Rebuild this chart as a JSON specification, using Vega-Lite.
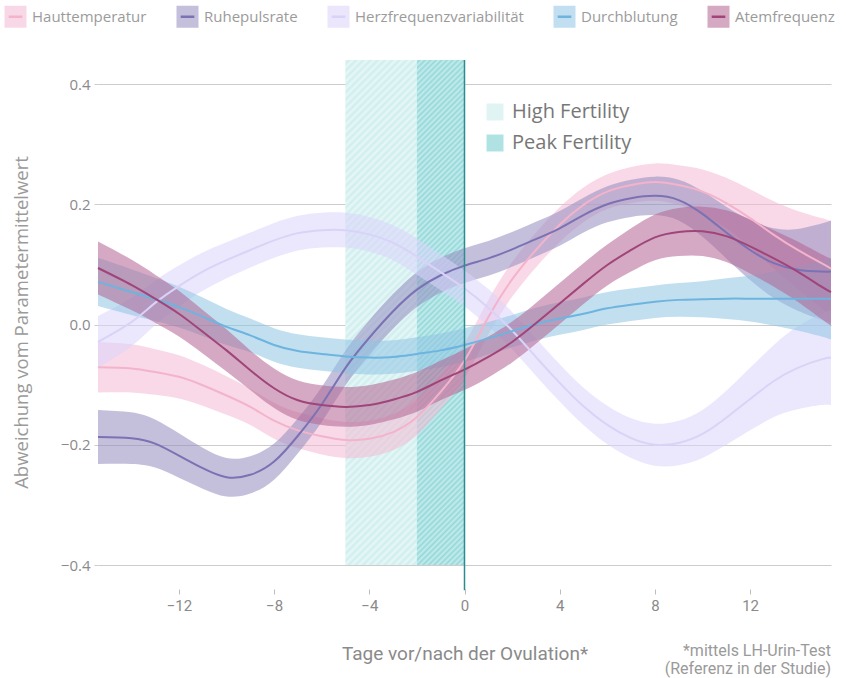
{
  "$schema": "https://vega.github.io/schema/vega-lite/v6.json",
  "width": 733,
  "height": 505,
  "autosize": "none",
  "padding": {"left": 98, "top": 60, "right": 15, "bottom": 113},
  "background": "white",
  "config": {"view": {"stroke": null}, "font": "Open Sans"},
  "title": {
    "text": ["*mittels LH-Urin-Test", "(Referenz in der Studie)"],
    "orient": "bottom", "anchor": "end", "frame": "group", "align": "right",
    "font": "Roboto", "fontSize": 16, "fontWeight": "normal", "color": "#9a9a9a",
    "lineHeight": 17.5, "offset": -20
  },
  "datasets": {
    "fert": [
      {"p": "High Fertility", "a": -5, "b": -2},
      {"p": "Peak Fertility", "a": -2, "b": 0}
    ],
    "bands": [
      {"s":"Hauttemperatur","d":-15.4,"v":-0.071,"lo":-0.113,"hi":-0.029},
      {"s":"Hauttemperatur","d":-14,"v":-0.073,"lo":-0.113,"hi":-0.033},
      {"s":"Hauttemperatur","d":-13,"v":-0.079,"lo":-0.117,"hi":-0.041},
      {"s":"Hauttemperatur","d":-12,"v":-0.087,"lo":-0.123,"hi":-0.051},
      {"s":"Hauttemperatur","d":-11,"v":-0.101,"lo":-0.135,"hi":-0.067},
      {"s":"Hauttemperatur","d":-10,"v":-0.118,"lo":-0.150,"hi":-0.086},
      {"s":"Hauttemperatur","d":-9,"v":-0.137,"lo":-0.167,"hi":-0.107},
      {"s":"Hauttemperatur","d":-8,"v":-0.160,"lo":-0.190,"hi":-0.130},
      {"s":"Hauttemperatur","d":-7,"v":-0.176,"lo":-0.206,"hi":-0.146},
      {"s":"Hauttemperatur","d":-6,"v":-0.186,"lo":-0.216,"hi":-0.156},
      {"s":"Hauttemperatur","d":-5,"v":-0.192,"lo":-0.222,"hi":-0.162},
      {"s":"Hauttemperatur","d":-4,"v":-0.190,"lo":-0.220,"hi":-0.160},
      {"s":"Hauttemperatur","d":-3,"v":-0.179,"lo":-0.209,"hi":-0.149},
      {"s":"Hauttemperatur","d":-2,"v":-0.154,"lo":-0.184,"hi":-0.124},
      {"s":"Hauttemperatur","d":-1,"v":-0.112,"lo":-0.141,"hi":-0.083},
      {"s":"Hauttemperatur","d":0,"v":-0.060,"lo":-0.089,"hi":-0.031},
      {"s":"Hauttemperatur","d":1,"v":0.012,"lo":-0.017,"hi":0.041},
      {"s":"Hauttemperatur","d":2,"v":0.075,"lo":0.046,"hi":0.104},
      {"s":"Hauttemperatur","d":3,"v":0.124,"lo":0.095,"hi":0.153},
      {"s":"Hauttemperatur","d":4,"v":0.166,"lo":0.137,"hi":0.195},
      {"s":"Hauttemperatur","d":5,"v":0.199,"lo":0.170,"hi":0.228},
      {"s":"Hauttemperatur","d":6,"v":0.221,"lo":0.192,"hi":0.250},
      {"s":"Hauttemperatur","d":7,"v":0.232,"lo":0.202,"hi":0.262},
      {"s":"Hauttemperatur","d":8,"v":0.237,"lo":0.206,"hi":0.268},
      {"s":"Hauttemperatur","d":9,"v":0.232,"lo":0.199,"hi":0.265},
      {"s":"Hauttemperatur","d":10,"v":0.221,"lo":0.184,"hi":0.258},
      {"s":"Hauttemperatur","d":11,"v":0.202,"lo":0.160,"hi":0.244},
      {"s":"Hauttemperatur","d":12,"v":0.177,"lo":0.129,"hi":0.225},
      {"s":"Hauttemperatur","d":13,"v":0.149,"lo":0.093,"hi":0.205},
      {"s":"Hauttemperatur","d":14,"v":0.124,"lo":0.059,"hi":0.189},
      {"s":"Hauttemperatur","d":15,"v":0.102,"lo":0.027,"hi":0.177},
      {"s":"Hauttemperatur","d":15.4,"v":0.093,"lo":0.014,"hi":0.172},

      {"s":"Ruhepulsrate","d":-15.4,"v":-0.187,"lo":-0.232,"hi":-0.142},
      {"s":"Ruhepulsrate","d":-14,"v":-0.189,"lo":-0.232,"hi":-0.146},
      {"s":"Ruhepulsrate","d":-13,"v":-0.198,"lo":-0.238,"hi":-0.158},
      {"s":"Ruhepulsrate","d":-12,"v":-0.218,"lo":-0.255,"hi":-0.181},
      {"s":"Ruhepulsrate","d":-11,"v":-0.239,"lo":-0.273,"hi":-0.205},
      {"s":"Ruhepulsrate","d":-10,"v":-0.254,"lo":-0.286,"hi":-0.222},
      {"s":"Ruhepulsrate","d":-9,"v":-0.250,"lo":-0.281,"hi":-0.219},
      {"s":"Ruhepulsrate","d":-8,"v":-0.228,"lo":-0.258,"hi":-0.198},
      {"s":"Ruhepulsrate","d":-7,"v":-0.185,"lo":-0.214,"hi":-0.156},
      {"s":"Ruhepulsrate","d":-6,"v":-0.133,"lo":-0.162,"hi":-0.104},
      {"s":"Ruhepulsrate","d":-5,"v":-0.072,"lo":-0.101,"hi":-0.043},
      {"s":"Ruhepulsrate","d":-4,"v":-0.022,"lo":-0.051,"hi":0.007},
      {"s":"Ruhepulsrate","d":-3,"v":0.022,"lo":-0.007,"hi":0.051},
      {"s":"Ruhepulsrate","d":-2,"v":0.058,"lo":0.029,"hi":0.087},
      {"s":"Ruhepulsrate","d":-1,"v":0.082,"lo":0.053,"hi":0.111},
      {"s":"Ruhepulsrate","d":0,"v":0.098,"lo":0.069,"hi":0.127},
      {"s":"Ruhepulsrate","d":1,"v":0.110,"lo":0.081,"hi":0.139},
      {"s":"Ruhepulsrate","d":2,"v":0.125,"lo":0.096,"hi":0.154},
      {"s":"Ruhepulsrate","d":3,"v":0.142,"lo":0.113,"hi":0.171},
      {"s":"Ruhepulsrate","d":4,"v":0.160,"lo":0.131,"hi":0.189},
      {"s":"Ruhepulsrate","d":5,"v":0.182,"lo":0.153,"hi":0.211},
      {"s":"Ruhepulsrate","d":6,"v":0.200,"lo":0.170,"hi":0.230},
      {"s":"Ruhepulsrate","d":7,"v":0.210,"lo":0.179,"hi":0.241},
      {"s":"Ruhepulsrate","d":8,"v":0.214,"lo":0.182,"hi":0.246},
      {"s":"Ruhepulsrate","d":9,"v":0.207,"lo":0.173,"hi":0.241},
      {"s":"Ruhepulsrate","d":10,"v":0.184,"lo":0.146,"hi":0.222},
      {"s":"Ruhepulsrate","d":11,"v":0.153,"lo":0.110,"hi":0.196},
      {"s":"Ruhepulsrate","d":12,"v":0.124,"lo":0.074,"hi":0.174},
      {"s":"Ruhepulsrate","d":13,"v":0.102,"lo":0.044,"hi":0.160},
      {"s":"Ruhepulsrate","d":14,"v":0.091,"lo":0.023,"hi":0.159},
      {"s":"Ruhepulsrate","d":15,"v":0.088,"lo":0.008,"hi":0.168},
      {"s":"Ruhepulsrate","d":15.4,"v":0.088,"lo":0.003,"hi":0.173},

      {"s":"Herzfrequenzvariabilität","d":-15.4,"v":-0.029,"lo":-0.072,"hi":0.014},
      {"s":"Herzfrequenzvariabilität","d":-14,"v":0.004,"lo":-0.036,"hi":0.044},
      {"s":"Herzfrequenzvariabilität","d":-13,"v":0.036,"lo":-0.001,"hi":0.073},
      {"s":"Herzfrequenzvariabilität","d":-12,"v":0.064,"lo":0.030,"hi":0.098},
      {"s":"Herzfrequenzvariabilität","d":-11,"v":0.088,"lo":0.056,"hi":0.120},
      {"s":"Herzfrequenzvariabilität","d":-10,"v":0.107,"lo":0.077,"hi":0.137},
      {"s":"Herzfrequenzvariabilität","d":-9,"v":0.124,"lo":0.095,"hi":0.153},
      {"s":"Herzfrequenzvariabilität","d":-8,"v":0.140,"lo":0.111,"hi":0.169},
      {"s":"Herzfrequenzvariabilität","d":-7,"v":0.152,"lo":0.123,"hi":0.181},
      {"s":"Herzfrequenzvariabilität","d":-6,"v":0.157,"lo":0.128,"hi":0.186},
      {"s":"Herzfrequenzvariabilität","d":-5,"v":0.157,"lo":0.128,"hi":0.186},
      {"s":"Herzfrequenzvariabilität","d":-4,"v":0.150,"lo":0.121,"hi":0.179},
      {"s":"Herzfrequenzvariabilität","d":-3,"v":0.136,"lo":0.107,"hi":0.165},
      {"s":"Herzfrequenzvariabilität","d":-2,"v":0.113,"lo":0.083,"hi":0.143},
      {"s":"Herzfrequenzvariabilität","d":-1,"v":0.087,"lo":0.057,"hi":0.117},
      {"s":"Herzfrequenzvariabilität","d":0,"v":0.060,"lo":0.030,"hi":0.090},
      {"s":"Herzfrequenzvariabilität","d":1,"v":0.028,"lo":-0.003,"hi":0.059},
      {"s":"Herzfrequenzvariabilität","d":2,"v":-0.010,"lo":-0.041,"hi":0.021},
      {"s":"Herzfrequenzvariabilität","d":3,"v":-0.054,"lo":-0.085,"hi":-0.023},
      {"s":"Herzfrequenzvariabilität","d":4,"v":-0.097,"lo":-0.128,"hi":-0.066},
      {"s":"Herzfrequenzvariabilität","d":5,"v":-0.136,"lo":-0.167,"hi":-0.105},
      {"s":"Herzfrequenzvariabilität","d":6,"v":-0.167,"lo":-0.199,"hi":-0.135},
      {"s":"Herzfrequenzvariabilität","d":7,"v":-0.189,"lo":-0.222,"hi":-0.156},
      {"s":"Herzfrequenzvariabilität","d":8,"v":-0.200,"lo":-0.235,"hi":-0.165},
      {"s":"Herzfrequenzvariabilität","d":9,"v":-0.197,"lo":-0.234,"hi":-0.160},
      {"s":"Herzfrequenzvariabilität","d":10,"v":-0.182,"lo":-0.222,"hi":-0.142},
      {"s":"Herzfrequenzvariabilität","d":11,"v":-0.155,"lo":-0.200,"hi":-0.110},
      {"s":"Herzfrequenzvariabilität","d":12,"v":-0.124,"lo":-0.176,"hi":-0.072},
      {"s":"Herzfrequenzvariabilität","d":13,"v":-0.094,"lo":-0.154,"hi":-0.034},
      {"s":"Herzfrequenzvariabilität","d":14,"v":-0.072,"lo":-0.141,"hi":-0.003},
      {"s":"Herzfrequenzvariabilität","d":15,"v":-0.058,"lo":-0.134,"hi":0.018},
      {"s":"Herzfrequenzvariabilität","d":15.4,"v":-0.055,"lo":-0.134,"hi":0.024},

      {"s":"Durchblutung","d":-15.4,"v":0.071,"lo":0.031,"hi":0.111},
      {"s":"Durchblutung","d":-14,"v":0.054,"lo":0.016,"hi":0.092},
      {"s":"Durchblutung","d":-13,"v":0.042,"lo":0.006,"hi":0.078},
      {"s":"Durchblutung","d":-12,"v":0.029,"lo":-0.005,"hi":0.063},
      {"s":"Durchblutung","d":-11,"v":0.013,"lo":-0.019,"hi":0.045},
      {"s":"Durchblutung","d":-10,"v":-0.004,"lo":-0.034,"hi":0.026},
      {"s":"Durchblutung","d":-9,"v":-0.018,"lo":-0.046,"hi":0.010},
      {"s":"Durchblutung","d":-8,"v":-0.034,"lo":-0.062,"hi":-0.006},
      {"s":"Durchblutung","d":-7,"v":-0.044,"lo":-0.072,"hi":-0.016},
      {"s":"Durchblutung","d":-6,"v":-0.049,"lo":-0.077,"hi":-0.021},
      {"s":"Durchblutung","d":-5,"v":-0.053,"lo":-0.081,"hi":-0.025},
      {"s":"Durchblutung","d":-4,"v":-0.055,"lo":-0.083,"hi":-0.027},
      {"s":"Durchblutung","d":-3,"v":-0.054,"lo":-0.082,"hi":-0.026},
      {"s":"Durchblutung","d":-2,"v":-0.049,"lo":-0.077,"hi":-0.021},
      {"s":"Durchblutung","d":-1,"v":-0.043,"lo":-0.071,"hi":-0.015},
      {"s":"Durchblutung","d":0,"v":-0.034,"lo":-0.062,"hi":-0.006},
      {"s":"Durchblutung","d":1,"v":-0.023,"lo":-0.050,"hi":0.004},
      {"s":"Durchblutung","d":2,"v":-0.011,"lo":-0.038,"hi":0.016},
      {"s":"Durchblutung","d":3,"v":0.001,"lo":-0.026,"hi":0.028},
      {"s":"Durchblutung","d":4,"v":0.010,"lo":-0.017,"hi":0.037},
      {"s":"Durchblutung","d":5,"v":0.018,"lo":-0.009,"hi":0.045},
      {"s":"Durchblutung","d":6,"v":0.027,"lo":0.000,"hi":0.054},
      {"s":"Durchblutung","d":7,"v":0.033,"lo":0.006,"hi":0.060},
      {"s":"Durchblutung","d":8,"v":0.038,"lo":0.011,"hi":0.065},
      {"s":"Durchblutung","d":9,"v":0.041,"lo":0.013,"hi":0.069},
      {"s":"Durchblutung","d":10,"v":0.042,"lo":0.012,"hi":0.072},
      {"s":"Durchblutung","d":11,"v":0.043,"lo":0.009,"hi":0.077},
      {"s":"Durchblutung","d":12,"v":0.043,"lo":0.005,"hi":0.081},
      {"s":"Durchblutung","d":13,"v":0.043,"lo":-0.002,"hi":0.088},
      {"s":"Durchblutung","d":14,"v":0.043,"lo":-0.010,"hi":0.096},
      {"s":"Durchblutung","d":15,"v":0.043,"lo":-0.020,"hi":0.106},
      {"s":"Durchblutung","d":15.4,"v":0.043,"lo":-0.025,"hi":0.111},

      {"s":"Atemfrequenz","d":-15.4,"v":0.094,"lo":0.050,"hi":0.138},
      {"s":"Atemfrequenz","d":-14,"v":0.066,"lo":0.024,"hi":0.108},
      {"s":"Atemfrequenz","d":-13,"v":0.043,"lo":0.003,"hi":0.083},
      {"s":"Atemfrequenz","d":-12,"v":0.018,"lo":-0.020,"hi":0.056},
      {"s":"Atemfrequenz","d":-11,"v":-0.012,"lo":-0.048,"hi":0.024},
      {"s":"Atemfrequenz","d":-10,"v":-0.043,"lo":-0.078,"hi":-0.008},
      {"s":"Atemfrequenz","d":-9,"v":-0.076,"lo":-0.109,"hi":-0.043},
      {"s":"Atemfrequenz","d":-8,"v":-0.106,"lo":-0.139,"hi":-0.073},
      {"s":"Atemfrequenz","d":-7,"v":-0.126,"lo":-0.159,"hi":-0.093},
      {"s":"Atemfrequenz","d":-6,"v":-0.134,"lo":-0.167,"hi":-0.101},
      {"s":"Atemfrequenz","d":-5,"v":-0.137,"lo":-0.170,"hi":-0.104},
      {"s":"Atemfrequenz","d":-4,"v":-0.134,"lo":-0.167,"hi":-0.101},
      {"s":"Atemfrequenz","d":-3,"v":-0.125,"lo":-0.158,"hi":-0.092},
      {"s":"Atemfrequenz","d":-2,"v":-0.112,"lo":-0.145,"hi":-0.079},
      {"s":"Atemfrequenz","d":-1,"v":-0.093,"lo":-0.126,"hi":-0.060},
      {"s":"Atemfrequenz","d":0,"v":-0.075,"lo":-0.109,"hi":-0.041},
      {"s":"Atemfrequenz","d":1,"v":-0.054,"lo":-0.088,"hi":-0.020},
      {"s":"Atemfrequenz","d":2,"v":-0.029,"lo":-0.063,"hi":0.005},
      {"s":"Atemfrequenz","d":3,"v":0.002,"lo":-0.032,"hi":0.036},
      {"s":"Atemfrequenz","d":4,"v":0.035,"lo":0.001,"hi":0.069},
      {"s":"Atemfrequenz","d":5,"v":0.068,"lo":0.034,"hi":0.102},
      {"s":"Atemfrequenz","d":6,"v":0.099,"lo":0.065,"hi":0.133},
      {"s":"Atemfrequenz","d":7,"v":0.124,"lo":0.088,"hi":0.160},
      {"s":"Atemfrequenz","d":8,"v":0.145,"lo":0.107,"hi":0.183},
      {"s":"Atemfrequenz","d":9,"v":0.154,"lo":0.114,"hi":0.194},
      {"s":"Atemfrequenz","d":10,"v":0.155,"lo":0.114,"hi":0.196},
      {"s":"Atemfrequenz","d":11,"v":0.147,"lo":0.104,"hi":0.190},
      {"s":"Atemfrequenz","d":12,"v":0.130,"lo":0.085,"hi":0.175},
      {"s":"Atemfrequenz","d":13,"v":0.110,"lo":0.063,"hi":0.157},
      {"s":"Atemfrequenz","d":14,"v":0.088,"lo":0.038,"hi":0.138},
      {"s":"Atemfrequenz","d":15,"v":0.063,"lo":0.009,"hi":0.117},
      {"s":"Atemfrequenz","d":15.4,"v":0.054,"lo":-0.002,"hi":0.110}
    ]
  },
  "encoding": {
    "x": {
      "type": "quantitative",
      "scale": {"domain": [-15.4, 15.4], "nice": false, "zero": false},
      "axis": {
        "title": "Tage vor/nach der Ovulation*",
        "values": [-12, -8, -4, 0, 4, 8, 12], "format": "d",
        "grid": false, "domain": false, "offset": 24,
        "tickSize": 5, "tickColor": "#bdbdbd", "tickWidth": 1,
        "labelPadding": 4, "labelFont": "Roboto", "labelFontSize": 15, "labelColor": "#8a8a8a",
        "titleFont": "Roboto", "titleFontSize": 19, "titleFontWeight": "normal", "titleColor": "#8a8a8a",
        "titlePadding": 31
      }
    },
    "y": {
      "type": "quantitative",
      "scale": {"domain": [-0.4, 0.44], "nice": false, "zero": false},
      "axis": {
        "title": "Abweichung vom Parametermittelwert",
        "values": [-0.4, -0.2, 0, 0.2, 0.4], "format": ".1f",
        "grid": true, "gridColor": "#cccccc", "gridWidth": 1,
        "domain": false, "tickSize": 4, "tickColor": "#cccccc",
        "labelPadding": 4, "labelFont": "Open Sans", "labelFontSize": 15, "labelColor": "#8a8a8a",
        "titleFont": "Open Sans", "titleFontSize": 18.5, "titleFontWeight": "normal", "titleColor": "#9a9a9a",
        "titlePadding": 29, "titleY": 262
      }
    }
  },
  "layer": [
    {
      "data": {"name": "fert"},
      "mark": {"type": "rect"},
      "encoding": {
        "x": {"field": "a"},
        "x2": {"field": "b"},
        "color": {
          "field": "p", "type": "nominal",
          "scale": {"domain": ["High Fertility", "Peak Fertility"], "range": ["#e0f4f4", "#b0e2e3"]},
          "legend": {
            "title": null, "orient": "none", "legendX": 387, "legendY": 42,
            "symbolType": "square", "symbolSize": 289, "symbolOpacity": 1,
            "symbolStrokeWidth": 0,
            "labelFont": "Open Sans", "labelFontSize": 20, "labelColor": "#777777",
            "labelOffset": 7, "rowPadding": 11, "padding": 0
          }
        }
      }
    },
    {
      "data": {"name": "fert"},
      "transform": [{"filter": "datum.p === 'High Fertility'"}],
      "mark": {
        "type": "rect",
        "fill": {
          "gradient": "linear", "x1": 0, "y1": 0, "x2": 0.15822, "y2": 1.11902,
          "stops": [
            {"offset":0,"color":"#e8f7f7"},{"offset":0.00625,"color":"#cfeeee"},{"offset":0.0125,"color":"#e8f7f7"},{"offset":0.01875,"color":"#cfeeee"},{"offset":0.025,"color":"#e8f7f7"},{"offset":0.03125,"color":"#cfeeee"},{"offset":0.0375,"color":"#e8f7f7"},{"offset":0.04375,"color":"#cfeeee"},{"offset":0.05,"color":"#e8f7f7"},{"offset":0.05625,"color":"#cfeeee"},
            {"offset":0.0625,"color":"#e8f7f7"},{"offset":0.06875,"color":"#cfeeee"},{"offset":0.075,"color":"#e8f7f7"},{"offset":0.08125,"color":"#cfeeee"},{"offset":0.0875,"color":"#e8f7f7"},{"offset":0.09375,"color":"#cfeeee"},{"offset":0.1,"color":"#e8f7f7"},{"offset":0.10625,"color":"#cfeeee"},{"offset":0.1125,"color":"#e8f7f7"},{"offset":0.11875,"color":"#cfeeee"},
            {"offset":0.125,"color":"#e8f7f7"},{"offset":0.13125,"color":"#cfeeee"},{"offset":0.1375,"color":"#e8f7f7"},{"offset":0.14375,"color":"#cfeeee"},{"offset":0.15,"color":"#e8f7f7"},{"offset":0.15625,"color":"#cfeeee"},{"offset":0.1625,"color":"#e8f7f7"},{"offset":0.16875,"color":"#cfeeee"},{"offset":0.175,"color":"#e8f7f7"},{"offset":0.18125,"color":"#cfeeee"},
            {"offset":0.1875,"color":"#e8f7f7"},{"offset":0.19375,"color":"#cfeeee"},{"offset":0.2,"color":"#e8f7f7"},{"offset":0.20625,"color":"#cfeeee"},{"offset":0.2125,"color":"#e8f7f7"},{"offset":0.21875,"color":"#cfeeee"},{"offset":0.225,"color":"#e8f7f7"},{"offset":0.23125,"color":"#cfeeee"},{"offset":0.2375,"color":"#e8f7f7"},{"offset":0.24375,"color":"#cfeeee"},
            {"offset":0.25,"color":"#e8f7f7"},{"offset":0.25625,"color":"#cfeeee"},{"offset":0.2625,"color":"#e8f7f7"},{"offset":0.26875,"color":"#cfeeee"},{"offset":0.275,"color":"#e8f7f7"},{"offset":0.28125,"color":"#cfeeee"},{"offset":0.2875,"color":"#e8f7f7"},{"offset":0.29375,"color":"#cfeeee"},{"offset":0.3,"color":"#e8f7f7"},{"offset":0.30625,"color":"#cfeeee"},
            {"offset":0.3125,"color":"#e8f7f7"},{"offset":0.31875,"color":"#cfeeee"},{"offset":0.325,"color":"#e8f7f7"},{"offset":0.33125,"color":"#cfeeee"},{"offset":0.3375,"color":"#e8f7f7"},{"offset":0.34375,"color":"#cfeeee"},{"offset":0.35,"color":"#e8f7f7"},{"offset":0.35625,"color":"#cfeeee"},{"offset":0.3625,"color":"#e8f7f7"},{"offset":0.36875,"color":"#cfeeee"},
            {"offset":0.375,"color":"#e8f7f7"},{"offset":0.38125,"color":"#cfeeee"},{"offset":0.3875,"color":"#e8f7f7"},{"offset":0.39375,"color":"#cfeeee"},{"offset":0.4,"color":"#e8f7f7"},{"offset":0.40625,"color":"#cfeeee"},{"offset":0.4125,"color":"#e8f7f7"},{"offset":0.41875,"color":"#cfeeee"},{"offset":0.425,"color":"#e8f7f7"},{"offset":0.43125,"color":"#cfeeee"},
            {"offset":0.4375,"color":"#e8f7f7"},{"offset":0.44375,"color":"#cfeeee"},{"offset":0.45,"color":"#e8f7f7"},{"offset":0.45625,"color":"#cfeeee"},{"offset":0.4625,"color":"#e8f7f7"},{"offset":0.46875,"color":"#cfeeee"},{"offset":0.475,"color":"#e8f7f7"},{"offset":0.48125,"color":"#cfeeee"},{"offset":0.4875,"color":"#e8f7f7"},{"offset":0.49375,"color":"#cfeeee"},
            {"offset":0.5,"color":"#e8f7f7"},{"offset":0.50625,"color":"#cfeeee"},{"offset":0.5125,"color":"#e8f7f7"},{"offset":0.51875,"color":"#cfeeee"},{"offset":0.525,"color":"#e8f7f7"},{"offset":0.53125,"color":"#cfeeee"},{"offset":0.5375,"color":"#e8f7f7"},{"offset":0.54375,"color":"#cfeeee"},{"offset":0.55,"color":"#e8f7f7"},{"offset":0.55625,"color":"#cfeeee"},
            {"offset":0.5625,"color":"#e8f7f7"},{"offset":0.56875,"color":"#cfeeee"},{"offset":0.575,"color":"#e8f7f7"},{"offset":0.58125,"color":"#cfeeee"},{"offset":0.5875,"color":"#e8f7f7"},{"offset":0.59375,"color":"#cfeeee"},{"offset":0.6,"color":"#e8f7f7"},{"offset":0.60625,"color":"#cfeeee"},{"offset":0.6125,"color":"#e8f7f7"},{"offset":0.61875,"color":"#cfeeee"},
            {"offset":0.625,"color":"#e8f7f7"},{"offset":0.63125,"color":"#cfeeee"},{"offset":0.6375,"color":"#e8f7f7"},{"offset":0.64375,"color":"#cfeeee"},{"offset":0.65,"color":"#e8f7f7"},{"offset":0.65625,"color":"#cfeeee"},{"offset":0.6625,"color":"#e8f7f7"},{"offset":0.66875,"color":"#cfeeee"},{"offset":0.675,"color":"#e8f7f7"},{"offset":0.68125,"color":"#cfeeee"},
            {"offset":0.6875,"color":"#e8f7f7"},{"offset":0.69375,"color":"#cfeeee"},{"offset":0.7,"color":"#e8f7f7"},{"offset":0.70625,"color":"#cfeeee"},{"offset":0.7125,"color":"#e8f7f7"},{"offset":0.71875,"color":"#cfeeee"},{"offset":0.725,"color":"#e8f7f7"},{"offset":0.73125,"color":"#cfeeee"},{"offset":0.7375,"color":"#e8f7f7"},{"offset":0.74375,"color":"#cfeeee"},
            {"offset":0.75,"color":"#e8f7f7"},{"offset":0.75625,"color":"#cfeeee"},{"offset":0.7625,"color":"#e8f7f7"},{"offset":0.76875,"color":"#cfeeee"},{"offset":0.775,"color":"#e8f7f7"},{"offset":0.78125,"color":"#cfeeee"},{"offset":0.7875,"color":"#e8f7f7"},{"offset":0.79375,"color":"#cfeeee"},{"offset":0.8,"color":"#e8f7f7"},{"offset":0.80625,"color":"#cfeeee"},
            {"offset":0.8125,"color":"#e8f7f7"},{"offset":0.81875,"color":"#cfeeee"},{"offset":0.825,"color":"#e8f7f7"},{"offset":0.83125,"color":"#cfeeee"},{"offset":0.8375,"color":"#e8f7f7"},{"offset":0.84375,"color":"#cfeeee"},{"offset":0.85,"color":"#e8f7f7"},{"offset":0.85625,"color":"#cfeeee"},{"offset":0.8625,"color":"#e8f7f7"},{"offset":0.86875,"color":"#cfeeee"},
            {"offset":0.875,"color":"#e8f7f7"},{"offset":0.88125,"color":"#cfeeee"},{"offset":0.8875,"color":"#e8f7f7"},{"offset":0.89375,"color":"#cfeeee"},{"offset":0.9,"color":"#e8f7f7"},{"offset":0.90625,"color":"#cfeeee"},{"offset":0.9125,"color":"#e8f7f7"},{"offset":0.91875,"color":"#cfeeee"},{"offset":0.925,"color":"#e8f7f7"},{"offset":0.93125,"color":"#cfeeee"},
            {"offset":0.9375,"color":"#e8f7f7"},{"offset":0.94375,"color":"#cfeeee"},{"offset":0.95,"color":"#e8f7f7"},{"offset":0.95625,"color":"#cfeeee"},{"offset":0.9625,"color":"#e8f7f7"},{"offset":0.96875,"color":"#cfeeee"},{"offset":0.975,"color":"#e8f7f7"},{"offset":0.98125,"color":"#cfeeee"},{"offset":0.9875,"color":"#e8f7f7"},{"offset":0.99375,"color":"#cfeeee"},
            {"offset":1,"color":"#e8f7f7"}
          ]
        }
      },
      "encoding": {"x": {"field": "a"}, "x2": {"field": "b"}}
    },
    {
      "data": {"name": "fert"},
      "transform": [{"filter": "datum.p === 'Peak Fertility'"}],
      "mark": {
        "type": "rect",
        "fill": {
          "gradient": "linear", "x1": 0, "y1": 0, "x2": 0.10224, "y2": 1.08463,
          "stops": [
            {"offset":0,"color":"#c6ecec"},{"offset":0.005,"color":"#95d8da"},{"offset":0.01,"color":"#c6ecec"},{"offset":0.015,"color":"#95d8da"},{"offset":0.02,"color":"#c6ecec"},{"offset":0.025,"color":"#95d8da"},{"offset":0.03,"color":"#c6ecec"},{"offset":0.035,"color":"#95d8da"},{"offset":0.04,"color":"#c6ecec"},{"offset":0.045,"color":"#95d8da"},
            {"offset":0.05,"color":"#c6ecec"},{"offset":0.055,"color":"#95d8da"},{"offset":0.06,"color":"#c6ecec"},{"offset":0.065,"color":"#95d8da"},{"offset":0.07,"color":"#c6ecec"},{"offset":0.075,"color":"#95d8da"},{"offset":0.08,"color":"#c6ecec"},{"offset":0.085,"color":"#95d8da"},{"offset":0.09,"color":"#c6ecec"},{"offset":0.095,"color":"#95d8da"},
            {"offset":0.1,"color":"#c6ecec"},{"offset":0.105,"color":"#95d8da"},{"offset":0.11,"color":"#c6ecec"},{"offset":0.115,"color":"#95d8da"},{"offset":0.12,"color":"#c6ecec"},{"offset":0.125,"color":"#95d8da"},{"offset":0.13,"color":"#c6ecec"},{"offset":0.135,"color":"#95d8da"},{"offset":0.14,"color":"#c6ecec"},{"offset":0.145,"color":"#95d8da"},
            {"offset":0.15,"color":"#c6ecec"},{"offset":0.155,"color":"#95d8da"},{"offset":0.16,"color":"#c6ecec"},{"offset":0.165,"color":"#95d8da"},{"offset":0.17,"color":"#c6ecec"},{"offset":0.175,"color":"#95d8da"},{"offset":0.18,"color":"#c6ecec"},{"offset":0.185,"color":"#95d8da"},{"offset":0.19,"color":"#c6ecec"},{"offset":0.195,"color":"#95d8da"},
            {"offset":0.2,"color":"#c6ecec"},{"offset":0.205,"color":"#95d8da"},{"offset":0.21,"color":"#c6ecec"},{"offset":0.215,"color":"#95d8da"},{"offset":0.22,"color":"#c6ecec"},{"offset":0.225,"color":"#95d8da"},{"offset":0.23,"color":"#c6ecec"},{"offset":0.235,"color":"#95d8da"},{"offset":0.24,"color":"#c6ecec"},{"offset":0.245,"color":"#95d8da"},
            {"offset":0.25,"color":"#c6ecec"},{"offset":0.255,"color":"#95d8da"},{"offset":0.26,"color":"#c6ecec"},{"offset":0.265,"color":"#95d8da"},{"offset":0.27,"color":"#c6ecec"},{"offset":0.275,"color":"#95d8da"},{"offset":0.28,"color":"#c6ecec"},{"offset":0.285,"color":"#95d8da"},{"offset":0.29,"color":"#c6ecec"},{"offset":0.295,"color":"#95d8da"},
            {"offset":0.3,"color":"#c6ecec"},{"offset":0.305,"color":"#95d8da"},{"offset":0.31,"color":"#c6ecec"},{"offset":0.315,"color":"#95d8da"},{"offset":0.32,"color":"#c6ecec"},{"offset":0.325,"color":"#95d8da"},{"offset":0.33,"color":"#c6ecec"},{"offset":0.335,"color":"#95d8da"},{"offset":0.34,"color":"#c6ecec"},{"offset":0.345,"color":"#95d8da"},
            {"offset":0.35,"color":"#c6ecec"},{"offset":0.355,"color":"#95d8da"},{"offset":0.36,"color":"#c6ecec"},{"offset":0.365,"color":"#95d8da"},{"offset":0.37,"color":"#c6ecec"},{"offset":0.375,"color":"#95d8da"},{"offset":0.38,"color":"#c6ecec"},{"offset":0.385,"color":"#95d8da"},{"offset":0.39,"color":"#c6ecec"},{"offset":0.395,"color":"#95d8da"},
            {"offset":0.4,"color":"#c6ecec"},{"offset":0.405,"color":"#95d8da"},{"offset":0.41,"color":"#c6ecec"},{"offset":0.415,"color":"#95d8da"},{"offset":0.42,"color":"#c6ecec"},{"offset":0.425,"color":"#95d8da"},{"offset":0.43,"color":"#c6ecec"},{"offset":0.435,"color":"#95d8da"},{"offset":0.44,"color":"#c6ecec"},{"offset":0.445,"color":"#95d8da"},
            {"offset":0.45,"color":"#c6ecec"},{"offset":0.455,"color":"#95d8da"},{"offset":0.46,"color":"#c6ecec"},{"offset":0.465,"color":"#95d8da"},{"offset":0.47,"color":"#c6ecec"},{"offset":0.475,"color":"#95d8da"},{"offset":0.48,"color":"#c6ecec"},{"offset":0.485,"color":"#95d8da"},{"offset":0.49,"color":"#c6ecec"},{"offset":0.495,"color":"#95d8da"},
            {"offset":0.5,"color":"#c6ecec"},{"offset":0.505,"color":"#95d8da"},{"offset":0.51,"color":"#c6ecec"},{"offset":0.515,"color":"#95d8da"},{"offset":0.52,"color":"#c6ecec"},{"offset":0.525,"color":"#95d8da"},{"offset":0.53,"color":"#c6ecec"},{"offset":0.535,"color":"#95d8da"},{"offset":0.54,"color":"#c6ecec"},{"offset":0.545,"color":"#95d8da"},
            {"offset":0.55,"color":"#c6ecec"},{"offset":0.555,"color":"#95d8da"},{"offset":0.56,"color":"#c6ecec"},{"offset":0.565,"color":"#95d8da"},{"offset":0.57,"color":"#c6ecec"},{"offset":0.575,"color":"#95d8da"},{"offset":0.58,"color":"#c6ecec"},{"offset":0.585,"color":"#95d8da"},{"offset":0.59,"color":"#c6ecec"},{"offset":0.595,"color":"#95d8da"},
            {"offset":0.6,"color":"#c6ecec"},{"offset":0.605,"color":"#95d8da"},{"offset":0.61,"color":"#c6ecec"},{"offset":0.615,"color":"#95d8da"},{"offset":0.62,"color":"#c6ecec"},{"offset":0.625,"color":"#95d8da"},{"offset":0.63,"color":"#c6ecec"},{"offset":0.635,"color":"#95d8da"},{"offset":0.64,"color":"#c6ecec"},{"offset":0.645,"color":"#95d8da"},
            {"offset":0.65,"color":"#c6ecec"},{"offset":0.655,"color":"#95d8da"},{"offset":0.66,"color":"#c6ecec"},{"offset":0.665,"color":"#95d8da"},{"offset":0.67,"color":"#c6ecec"},{"offset":0.675,"color":"#95d8da"},{"offset":0.68,"color":"#c6ecec"},{"offset":0.685,"color":"#95d8da"},{"offset":0.69,"color":"#c6ecec"},{"offset":0.695,"color":"#95d8da"},
            {"offset":0.7,"color":"#c6ecec"},{"offset":0.705,"color":"#95d8da"},{"offset":0.71,"color":"#c6ecec"},{"offset":0.715,"color":"#95d8da"},{"offset":0.72,"color":"#c6ecec"},{"offset":0.725,"color":"#95d8da"},{"offset":0.73,"color":"#c6ecec"},{"offset":0.735,"color":"#95d8da"},{"offset":0.74,"color":"#c6ecec"},{"offset":0.745,"color":"#95d8da"},
            {"offset":0.75,"color":"#c6ecec"},{"offset":0.755,"color":"#95d8da"},{"offset":0.76,"color":"#c6ecec"},{"offset":0.765,"color":"#95d8da"},{"offset":0.77,"color":"#c6ecec"},{"offset":0.775,"color":"#95d8da"},{"offset":0.78,"color":"#c6ecec"},{"offset":0.785,"color":"#95d8da"},{"offset":0.79,"color":"#c6ecec"},{"offset":0.795,"color":"#95d8da"},
            {"offset":0.8,"color":"#c6ecec"},{"offset":0.805,"color":"#95d8da"},{"offset":0.81,"color":"#c6ecec"},{"offset":0.815,"color":"#95d8da"},{"offset":0.82,"color":"#c6ecec"},{"offset":0.825,"color":"#95d8da"},{"offset":0.83,"color":"#c6ecec"},{"offset":0.835,"color":"#95d8da"},{"offset":0.84,"color":"#c6ecec"},{"offset":0.845,"color":"#95d8da"},
            {"offset":0.85,"color":"#c6ecec"},{"offset":0.855,"color":"#95d8da"},{"offset":0.86,"color":"#c6ecec"},{"offset":0.865,"color":"#95d8da"},{"offset":0.87,"color":"#c6ecec"},{"offset":0.875,"color":"#95d8da"},{"offset":0.88,"color":"#c6ecec"},{"offset":0.885,"color":"#95d8da"},{"offset":0.89,"color":"#c6ecec"},{"offset":0.895,"color":"#95d8da"},
            {"offset":0.9,"color":"#c6ecec"},{"offset":0.905,"color":"#95d8da"},{"offset":0.91,"color":"#c6ecec"},{"offset":0.915,"color":"#95d8da"},{"offset":0.92,"color":"#c6ecec"},{"offset":0.925,"color":"#95d8da"},{"offset":0.93,"color":"#c6ecec"},{"offset":0.935,"color":"#95d8da"},{"offset":0.94,"color":"#c6ecec"},{"offset":0.945,"color":"#95d8da"},
            {"offset":0.95,"color":"#c6ecec"},{"offset":0.955,"color":"#95d8da"},{"offset":0.96,"color":"#c6ecec"},{"offset":0.965,"color":"#95d8da"},{"offset":0.97,"color":"#c6ecec"},{"offset":0.975,"color":"#95d8da"},{"offset":0.98,"color":"#c6ecec"},{"offset":0.985,"color":"#95d8da"},{"offset":0.99,"color":"#c6ecec"},{"offset":0.995,"color":"#95d8da"},
            {"offset":1,"color":"#c6ecec"}
          ]
        }
      },
      "encoding": {"x": {"field": "a"}, "x2": {"field": "b"}}
    },
    {
      "data": {"name": "bands"},
      "mark": {"type": "area", "interpolate": "natural", "fillOpacity": 0.55},
      "encoding": {
        "x": {"field": "d"},
        "y": {"field": "lo"},
        "y2": {"field": "hi"},
        "fill": {
          "field": "s", "type": "nominal",
          "scale": {
            "domain": ["Hauttemperatur", "Ruhepulsrate", "Herzfrequenzvariabilität", "Durchblutung", "Atemfrequenz"],
            "range": ["#f4bad3", "#948cbf", "#dbd3fb", "#90c5e4", "#b36392"]
          },
          "legend": {
            "title": null, "orient": "none", "direction": "horizontal", "legendX": -95, "legendY": -56,
            "symbolType": "square", "symbolSize": 484, "symbolOpacity": 0.55,
            "symbolStrokeColor": "transparent", "symbolStrokeWidth": 2.5,
            "labelFont": "Open Sans", "labelFontSize": 15, "labelColor": "#9b9b9b",
            "labelOffset": 4, "columnPadding": 24, "labelLimit": 400, "padding": 0
          }
        }
      }
    },
    {
      "data": {"name": "bands"},
      "mark": {"type": "line", "interpolate": "natural", "strokeWidth": 2},
      "encoding": {
        "x": {"field": "d"},
        "y": {"field": "v"},
        "stroke": {
          "field": "s", "type": "nominal",
          "sort": ["Hauttemperatur", "Ruhepulsrate", "Herzfrequenzvariabilität", "Durchblutung", "Atemfrequenz"],
          "scale": {"range": ["#f3b3cb", "#7b72b3", "#d9d3f7", "#6db4df", "#a0457a"]},
          "legend": {
            "title": null, "orient": "none", "direction": "horizontal", "legendX": -95, "legendY": -56,
            "symbolType": "M-1,-1M1,1M-0.62,0H0.62", "symbolSize": 484, "symbolOpacity": 1,
            "symbolFillColor": "transparent", "symbolStrokeWidth": 2.5,
            "labelFont": "Open Sans", "labelFontSize": 15, "labelColor": "#9b9b9b", "labelOpacity": 0,
            "labelOffset": 4, "columnPadding": 24, "labelLimit": 400, "padding": 0, "zindex": 2
          }
        }
      }
    },
    {
      "data": {"values": [{}]},
      "mark": {"type": "rule", "color": "#2a8c8f", "strokeWidth": 1.5},
      "encoding": {
        "x": {"datum": 0},
        "y": {"datum": 0.44},
        "y2": {"datum": -0.442}
      }
    }
  ]
}
